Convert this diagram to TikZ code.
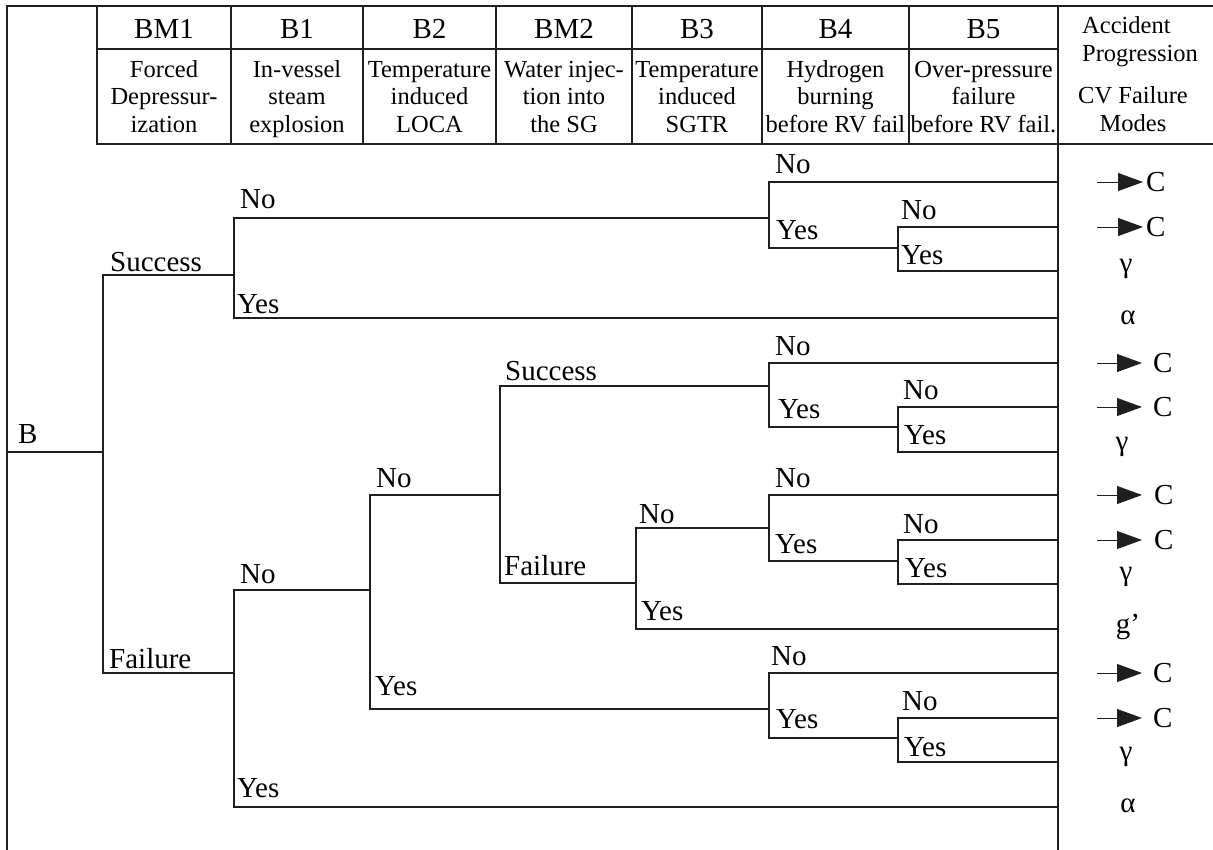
\documentclass[tikz,border=0pt]{standalone}
\usepackage{fontspec}
\setmainfont{Liberation Serif}
\usetikzlibrary{arrows.meta}
\begin{document}
\begin{tikzpicture}[x=1pt,y=-1pt,
  frame/.style={line width=1.8pt,black!88,line cap=rect},
  br/.style={line width=1.7pt,black!88,line cap=rect},
  lab/.style={anchor=base west,inner sep=0pt,font=\fontsize{29}{31}\selectfont},
  title/.style={anchor=base,inner sep=0pt,font=\fontsize{29}{31}\selectfont},
  sub/.style={anchor=base,inner sep=0pt,font=\fontsize{24.5}{27}\selectfont},
  outc/.style={anchor=west,inner sep=0pt,font=\fontsize{29}{31}\selectfont},
  greek/.style={anchor=center,inner sep=0pt,font=\fontsize{29}{31}\selectfont},
  arr/.style={line width=0.9pt,black!88,-{Triangle[length=25pt,width=18pt]}}
]
\useasboundingbox (0,0) rectangle (1213,849);

% ---------- frame and header grid ----------
\draw[frame] (7,849) -- (7,6) -- (1213,6);
\draw[frame] (1058,6) -- (1058,849);
\draw[frame] (97,49) -- (1058,49);
\draw[frame] (97,144) -- (1213,144);
\foreach \x in {97,231,363,496,632,762,909} \draw[frame] (\x,6) -- (\x,144);

% ---------- header texts ----------
\foreach \cx/\t/\a/\b/\c [count=\i] in {
  164/BM1/Forced/Depressur-/ization,
  297/B1/In-vessel/steam/explosion,
  429.5/B2/Temperature/induced/LOCA,
  564/BM2/Water injec-/tion into/the SG,
  697/B3/Temperature/induced/SGTR,
  835.5/B4/Hydrogen/burning/before RV fail,
  983.5/B5/Over-pressure/failure/before RV fail.}{
  \node[title] (t\i) at (\cx,38) {\t};
  \node[sub] (sa\i) at (\cx,77) {\a};
  \node[sub] (sb\i) at (\cx,104) {\b};
  \node[sub] (sc\i) at (\cx,132) {\c};
}
\node[sub,anchor=base west] (ap1) at (1082,33) {Accident};
\node[sub,anchor=base west] (ap2) at (1082,61) {Progression};
\node[sub] (cv1) at (1133,103) {CV Failure};
\node[sub] (cv2) at (1133,131) {Modes};

% ---------- tree ----------
\coordinate (root) at (7,452);
\coordinate (R) at (1058,0);
\foreach \n/\x/\ya/\yb in {0/103/275/673, 1/234/218/318, 2/769/182/248,
  3/898/227/271, 4/234/590/807, 5/370/495/709, 6/500/386/583, 7/769/363/427,
  8/898/407/452, 9/636/528/629, 10/769/495/561, 11/898/540/584,
  12/769/673/738, 13/898/718/762}{
  \coordinate (f\n-t) at (\x,\ya);
  \coordinate (f\n-b) at (\x,\yb);
}
\foreach \n in {0,...,13} \draw[br] (f\n-t) -- (f\n-b);

\draw[br] (root) -- (root -| f0-t);
\draw[br] (f0-t) -- (f0-t -| f1-t);
\draw[br] (f0-b) -- (f0-b -| f4-t);
\draw[br] (f1-t) -- (f1-t -| f2-t);
\draw[br] (f1-b) -- (f1-b -| R);
\draw[br] (f2-t) -- (f2-t -| R);
\draw[br] (f2-b) -- (f2-b -| f3-t);
\draw[br] (f3-t) -- (f3-t -| R);
\draw[br] (f3-b) -- (f3-b -| R);
\draw[br] (f4-t) -- (f4-t -| f5-t);
\draw[br] (f4-b) -- (f4-b -| R);
\draw[br] (f5-t) -- (f5-t -| f6-t);
\draw[br] (f5-b) -- (f5-b -| f12-t);
\draw[br] (f6-t) -- (f6-t -| f7-t);
\draw[br] (f6-b) -- (f6-b -| f9-t);
\draw[br] (f7-t) -- (f7-t -| R);
\draw[br] (f7-b) -- (f7-b -| f8-t);
\draw[br] (f8-t) -- (f8-t -| R);
\draw[br] (f8-b) -- (f8-b -| R);
\draw[br] (f9-t) -- (f9-t -| f10-t);
\draw[br] (f9-b) -- (f9-b -| R);
\draw[br] (f10-t) -- (f10-t -| R);
\draw[br] (f10-b) -- (f10-b -| f11-t);
\draw[br] (f11-t) -- (f11-t -| R);
\draw[br] (f11-b) -- (f11-b -| R);
\draw[br] (f12-t) -- (f12-t -| R);
\draw[br] (f12-b) -- (f12-b -| f13-t);
\draw[br] (f13-t) -- (f13-t -| R);
\draw[br] (f13-b) -- (f13-b -| R);

% ---------- branch labels ----------
\foreach \t/\x/\y [count=\i] in {
  B/18/443, Success/110/271, Failure/109/668,
  No/240/208, Yes/237/313,
  No/775/173, Yes/776/239, No/901/219, Yes/901/264,
  No/240/583, Yes/237/797,
  No/376/487, Yes/375/695,
  Success/505/380, Failure/504/575,
  No/775/355, Yes/778/418, No/903/399, Yes/904/444,
  No/639/523, Yes/641/620,
  No/775/487, Yes/775/553, No/903/533, Yes/905/577,
  No/771/665, Yes/776/728, No/902/710, Yes/904/756}{
  \node[lab] (lb\i) at (\x,\y) {\t};
}

% ---------- outcomes ----------
\foreach \y/\cx/\sh [count=\i] in {182/1146/3, 227/1146/3, 363/1153/11,
  407/1153/11, 495/1154/12, 540/1154/12, 673/1153/11, 718/1153/11}{
  \coordinate (as\i) at (1097,\y);
  \node[outc] (c\i) at (\cx,\y) {C};
  \draw[arr,shorten >=\sh pt] (as\i) -- (c\i.west);
}
\node[greek] (g1) at (1126,269) {γ};
\node[greek] (g2) at (1128,318) {α};
\node[greek] (g3) at (1122,447) {γ};
\node[greek] (g4) at (1126,577) {γ};
\node[greek] (g5) at (1128,627) {g’};
\node[greek] (g6) at (1126,757) {γ};
\node[greek] (g7) at (1128,806) {α};
\end{tikzpicture}
\end{document}
